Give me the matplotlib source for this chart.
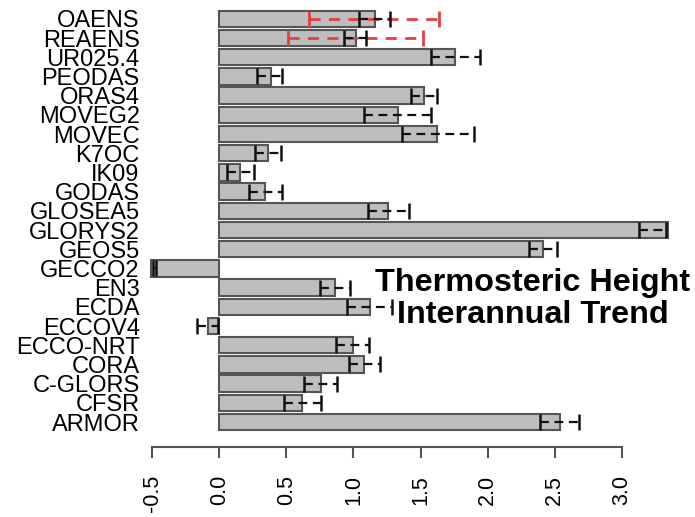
import matplotlib
matplotlib.use("Agg")
import matplotlib.pyplot as plt
import numpy as np

names = ["OAENS", "REAENS", "UR025.4", "PEODAS", "ORAS4", "MOVEG2", "MOVEC",
         "K7OC", "IK09", "GODAS", "GLOSEA5", "GLORYS2", "GEOS5", "GECCO2",
         "EN3", "ECDA", "ECCOV4", "ECCO-NRT", "CORA", "C-GLORS", "CFSR", "ARMOR"]
values = [1.16, 1.02, 1.76, 0.385, 1.525, 1.33, 1.625, 0.365, 0.155, 0.345,
          1.255, 3.34, 2.415, -0.505, 0.865, 1.12, -0.085, 0.995, 1.08, 0.76,
          0.615, 2.535]
err_lo = [1.04, 0.93, 1.58, 0.28, 1.43, 1.08, 1.365, 0.27, 0.06, 0.22,
          1.105, 3.13, 2.31, -0.49, 0.75, 0.95, -0.165, 0.87, 0.97, 0.635,
          0.48, 2.39]
err_hi = [1.27, 1.09, 1.94, 0.47, 1.625, 1.58, 1.90, 0.46, 0.26, 0.465,
          1.415, 3.33, 2.515, -0.47, 0.975, 1.285, -0.005, 1.115, 1.20, 0.875,
          0.76, 2.68]
ens_names = ["OAENS", "REAENS"]
ens_lo = [0.67, 0.515]
ens_hi = [1.64, 1.515]
xticks = [-0.5, 0.0, 0.5, 1.0, 1.5, 2.0, 2.5, 3.0]
title = "Thermosteric Height\nInterannual Trend"

plt.rcParams['font.family'] = ['Liberation Sans', 'DejaVu Sans']

W, H = 695, 517
fig = plt.figure(figsize=(W / 100, H / 100), dpi=100)
ax = fig.add_axes([148 / W, 1 - 447 / H, (675.7 - 148) / W, (447 - 9.2) / H])

n = len(names)
ypos = np.arange(n)[::-1]  # OAENS on top
ax.barh(ypos, values, height=0.85, color="#bebebe", edgecolor="#555555",
        linewidth=1.5, zorder=1)

# ensemble spread (red dashed)
for nm, lo, hi in zip(ens_names, ens_lo, ens_hi):
    y = ypos[names.index(nm)]
    c = (lo + hi) / 2
    e = ax.errorbar([c], [y], xerr=[[c - lo], [hi - c]], fmt="none",
                    ecolor="#e2403c", elinewidth=2, capsize=6, capthick=2,
                    zorder=2)
    e[2][0].set_linestyle((0, (4, 3)))

lo = np.array(err_lo)
hi = np.array(err_hi)
cen = (lo + hi) / 2
e = ax.errorbar(cen, ypos, xerr=[cen - lo, hi - cen], fmt="none",
                ecolor="#111111", elinewidth=1.6, capsize=6, capthick=1.8,
                zorder=3)
e[2][0].set_linestyle((0, (4, 2.5)))

ax.set_xlim(-0.53, 3.40)
ax.set_ylim(-1.3, n - 0.5)
ax.set_yticks(ypos)
ax.set_yticklabels(names, fontsize=17)
ax.tick_params(axis="y", length=0, pad=6)
ax.set_xticks(xticks)
ax.set_xticklabels([f"{t:.1f}" for t in xticks], rotation=90, fontsize=15.5)
ax.tick_params(axis="x", length=8, width=1.5, color="#555555", pad=12)
for s in ["top", "right", "left"]:
    ax.spines[s].set_visible(False)
ax.spines["bottom"].set_bounds(-0.5, 3.0)
ax.spines["bottom"].set_color("#555555")
ax.spines["bottom"].set_linewidth(1.5)

fig.text(533 / W, 1 - 299 / H, title, ha="center", va="center",
         fontsize=23.3, fontweight="bold", linespacing=1.1)

fig.savefig("out.png", dpi=100)
